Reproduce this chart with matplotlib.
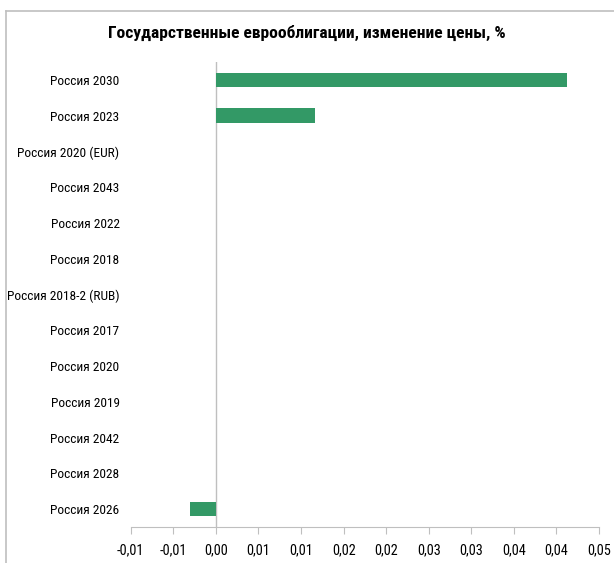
import matplotlib
matplotlib.use("Agg")
import matplotlib.pyplot as plt
from matplotlib.lines import Line2D

plt.rcParams['font.family'] = ['Roboto Condensed', 'DejaVu Sans']

# data (top to bottom as in the reference)
bonds = ["Россия 2030", "Россия 2023", "Россия 2020 (EUR)", "Россия 2043",
         "Россия 2022", "Россия 2018", "Россия 2018-2 (RUB)", "Россия 2017",
         "Россия 2020", "Россия 2019", "Россия 2042", "Россия 2028",
         "Россия 2026"]
change = [0.0412, 0.0117, 0, 0, 0, 0, 0, 0, 0, 0, 0, 0, -0.003]
xticks = [-0.01, -0.005, 0.0, 0.005, 0.01, 0.015, 0.02, 0.025, 0.03, 0.035, 0.04, 0.045]
xtick_labels = ["-0,01", "-0,01", "0,00", "0,01", "0,01", "0,02", "0,02",
                "0,03", "0,03", "0,04", "0,04", "0,05"]

W, H = 614, 563
fig = plt.figure(figsize=(W / 100, H / 100), dpi=100)
ax = fig.add_axes([130.7 / W, 1 - 527 / H, (599 - 130.7) / W, (527 - 62) / H])

ypos = list(range(len(bonds)))[::-1]
ax.barh(ypos, change, height=0.4, color="#339966", linewidth=0, zorder=3)
ax.axvline(0, color="#bfbfbf", linewidth=1, zorder=2)

ax.set_xlim(-0.01, 0.045)
ax.set_ylim(-0.5, len(bonds) - 0.5)
ax.set_yticks(ypos)
ax.set_yticklabels(bonds, fontsize=9.6)
ax.tick_params(axis="y", length=0, pad=8)
ax.set_xticks(xticks)
ax.set_xticklabels(xtick_labels, fontsize=10.3)
ax.tick_params(axis="x", direction="out", length=5, color="#bfbfbf", pad=7)

for s in ["top", "right", "left"]:
    ax.spines[s].set_visible(False)
ax.spines["bottom"].set_color("#bfbfbf")

fig.text(0.5, 1 - 33 / H, "Государственные еврооблигации, изменение цены, %",
         ha="center", va="center", fontsize=12.6, fontweight="bold")

# chart area border
fig.add_artist(Line2D([6 / W, 6 / W], [0, 1 - 11 / H], transform=fig.transFigure,
                      color="#bfbfbf", linewidth=1.2))
fig.add_artist(Line2D([6 / W, 1], [1 - 11 / H, 1 - 11 / H], transform=fig.transFigure,
                      color="#bfbfbf", linewidth=1.2))

fig.savefig("out.png", dpi=100)
